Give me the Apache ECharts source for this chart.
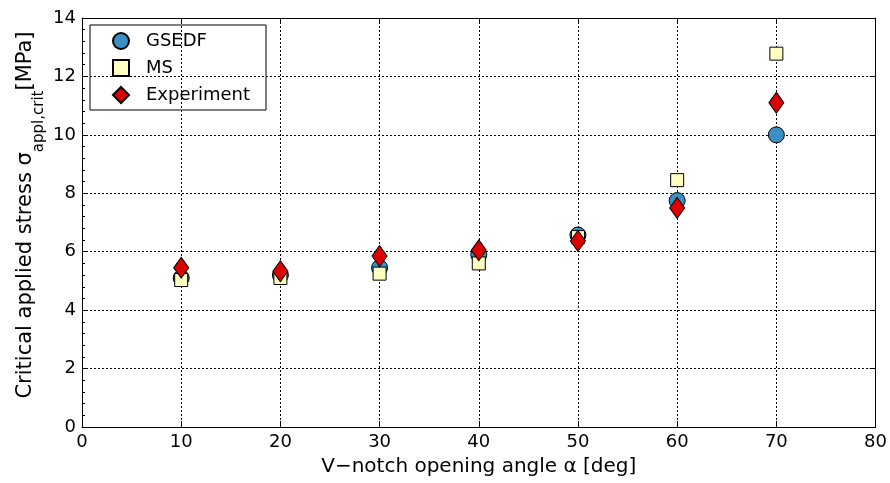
<!DOCTYPE html>
<html><head><meta charset="utf-8">
<script src="https://cdn.jsdelivr.net/npm/echarts@6/dist/echarts.min.js"></script>
<style>html,body{margin:0;padding:0;background:#fff}#c{width:890px;height:483px}</style>
</head><body><div id="c"></div>
<script>
var angles = [10, 20, 30, 40, 50, 60, 70];
var gsedf = [5.1, 5.2, 5.45, 5.9, 6.57, 7.75, 10.0];
var ms = [5.03, 5.1, 5.25, 5.6, 6.5, 8.45, 12.78];
var experiment = [5.45, 5.33, 5.85, 6.05, 6.37, 7.5, 11.1];
var xTicks = [0, 10, 20, 30, 40, 50, 60, 70, 80];
var yTicks = [0, 2, 4, 6, 8, 10, 12, 14];

function pairs(v){ return angles.map(function(a,i){ return [a, v[i]]; }); }
var font = 'DejaVu Sans';
var chart = echarts.init(document.getElementById('c'));
var axisCommon = {
  axisLine: {show: true, onZero: false, lineStyle: {color: '#000', width: 1}},
  axisTick: {show: true, inside: true, length: 6, lineStyle: {color: '#000'}},
};
chart.setOption({
  animation: false,
  grid: {left: 82, right: 12, top: 18, bottom: 56},
  legend: {
    orient: 'vertical', left: 90, top: 25,
    borderColor: '#000', borderWidth: 1, borderRadius: 0,
    padding: [7, 16, 6, 22], itemGap: 9, itemWidth: 16, itemHeight: 16,
    textStyle: {fontFamily: font, fontSize: 18, color: '#000', padding: [0, 0, 0, 12]},
    data: ['GSEDF', 'MS', 'Experiment']
  },
  xAxis: [{
    type: 'value', min: 0, max: 80, interval: 10, position: 'bottom',
    name: 'V\u2212notch opening angle \u03b1 [deg]', nameLocation: 'middle', nameGap: 30,
    nameTextStyle: {fontFamily: font, fontSize: 20, color: '#000'},
    axisLine: axisCommon.axisLine, axisTick: axisCommon.axisTick,
    axisLabel: {fontFamily: font, fontSize: 18, color: '#000', margin: 6,
      formatter: function(v){ return xTicks.indexOf(v) >= 0 ? String(v) : ''; }},
    splitLine: {show: true, lineStyle: {color: '#000', type: [2, 2], width: 1}}
  }, {
    type: 'value', min: 0, max: 80, interval: 10, position: 'top',
    axisLine: axisCommon.axisLine, axisTick: axisCommon.axisTick,
    axisLabel: {show: false}, splitLine: {show: false}
  }],
  yAxis: [{
    type: 'value', min: 0, max: 14, interval: 2, position: 'left',
    axisLine: axisCommon.axisLine, axisTick: axisCommon.axisTick,
    minorTick: {show: true, splitNumber: 5, length: 3, lineStyle: {color: '#000'}},
    axisLabel: {fontFamily: font, fontSize: 18, color: '#000', margin: 6,
      formatter: function(v){ return yTicks.indexOf(v) >= 0 ? String(v) : ''; }},
    splitLine: {show: true, lineStyle: {color: '#000', type: [2, 2], width: 1}}
  }, {
    type: 'value', min: 0, max: 14, interval: 2, position: 'right',
    axisLine: axisCommon.axisLine, axisTick: axisCommon.axisTick,
    axisLabel: {show: false}, splitLine: {show: false}
  }],
  graphic: [{
    type: 'text', x: 31, y: 215, rotation: Math.PI / 2, originX: 0, originY: 0,
    style: {
      text: '{m|Critical applied stress \u03c3}{s|appl,crit}{m|[MPa]}',
      align: 'center', verticalAlign: 'middle',
      rich: {
        m: {fontFamily: font, fontSize: 21, fill: '#000', lineHeight: 32, verticalAlign: 'top'},
        s: {fontFamily: font, fontSize: 15, fill: '#000', lineHeight: 32, verticalAlign: 'bottom'}
      }
    }
  }],
  series: [{
    name: 'GSEDF', type: 'scatter', data: pairs(gsedf), symbol: 'circle', symbolSize: 16,
    itemStyle: {color: '#3a8fc4', borderColor: '#000', borderWidth: 1, opacity: 1}
  }, {
    name: 'MS', type: 'scatter', data: pairs(ms), symbol: 'rect', symbolSize: 13,
    itemStyle: {color: '#ffffc2', borderColor: '#000', borderWidth: 1, opacity: 1}
  }, {
    name: 'Experiment', type: 'scatter', data: pairs(experiment), symbol: 'diamond', symbolSize: [15, 21],
    itemStyle: {color: '#dd0000', borderColor: '#000', borderWidth: 1, opacity: 1}
  }]
});
</script></body></html>
